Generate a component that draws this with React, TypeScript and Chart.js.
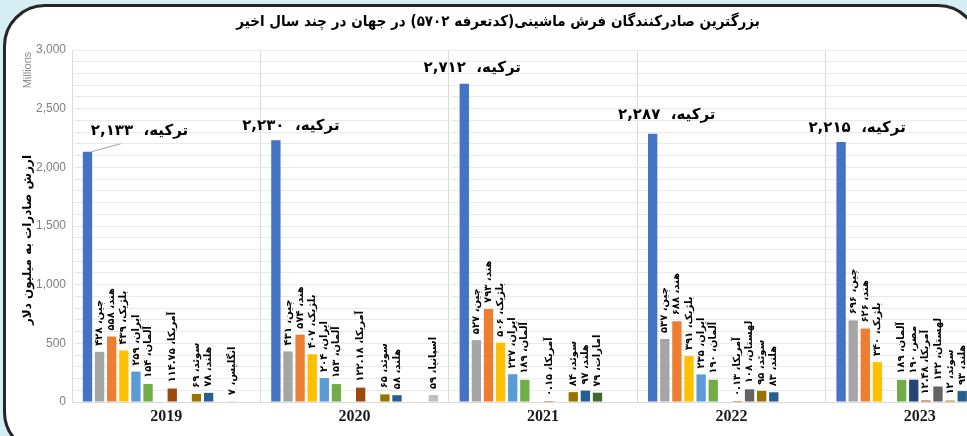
import React, { useEffect, useRef } from 'react';
import { Chart, registerables } from 'chart.js';

Chart.register(...registerables);

const years = ['2019', '2020', '2021', '2022', '2023'];
const countries = ['ترکیه', 'چین', 'هند', 'بلژیک', 'ایران', 'آلمان', 'مصر', 'آمریکا', 'لهستان', 'سوئد', 'هلند', 'امارات', 'انگلیس', 'اسپانیا'];
const colors = ['#4472C4', '#A5A5A5', '#ED7D31', '#FFC000', '#5B9BD5', '#70AD47', '#264478', '#9E480E', '#636363', '#997300', '#255E91', '#43682B', '#F4B183', '#BFBFBF'];

const turkey = [2133, 2230, 2712, 2287, 2215];
const china = [428, 431, 527, 537, 696];
const india = [558, 574, 793, 688, 626];
const belgium = [439, 407, 506, 391, 340];
const iran = [259, 204, 237, 235, null];
const germany = [154, 153, 189, 190, 189];
const egypt = [null, null, null, null, 190];
const usa = [114.75, 122.18, 0.15, 0.13, 12.48];
const poland = [null, null, null, 108, 132];
const sweden = [69, 65, 84, 95, 12];
const netherlands = [78, 58, 97, 83, 93];
const uae = [null, null, 79, null, null];
const england = [7, null, null, null, null];
const spain = [null, 59, null, null, null];

const seriesValues = [turkey, china, india, belgium, iran, germany, egypt, usa, poland, sweden, netherlands, uae, england, spain];

const yMin = 0;
const yMax = 3000;
const yGridStep = 100;
const yLabelStep = 500;

const titleText = 'بزرگترین صادرکنندگان فرش ماشینی(کدتعرفه ۵۷۰۲) در جهان در چند سال اخیر';
const yTitle = 'ارزش صادرات به میلیون دلار';
const unitsLabel = 'Millions';

// label placement offsets (relative to Turkey bar tops), layout only
const turkeyLabelOffsets = [[52, -21], [15, -14], [8, -16], [14, -19], [16, -14]];
const turkeyLeader = [true, false, false, false, false];

const faDigits = '۰۱۲۳۴۵۶۷۸۹';
function toFa(v: number): string {
  const s = v.toLocaleString('en-US', { maximumFractionDigits: 2 });
  return s.replace(/[0-9]/g, (d) => faDigits[Number(d)]);
}

const labelPlugin = {
  id: 'barLabels',
  afterDatasetsDraw(chart: any) {
    const ctx = chart.ctx;
    chart.data.datasets.forEach((ds: any, i: number) => {
      const meta = chart.getDatasetMeta(i);
      meta.data.forEach((bar: any, j: number) => {
        const v = ds.data[j];
        if (v === null || v === undefined) return;
        ctx.save();
        ctx.fillStyle = '#000';
        ctx.direction = 'rtl';
        if (i === 0) {
          const text = `${countries[i]}،  ${toFa(v)}`;
          const [dx, dy] = turkeyLabelOffsets[j];
          ctx.font = 'bold 15px "DejaVu Sans"';
          ctx.textAlign = 'center';
          ctx.textBaseline = 'middle';
          const lx = bar.x + dx;
          const ly = bar.y + dy;
          if (turkeyLeader[j]) {
            const w = ctx.measureText(text).width;
            ctx.strokeStyle = '#A6A6A6';
            ctx.lineWidth = 1;
            ctx.beginPath();
            ctx.moveTo(bar.x + 4, bar.y);
            ctx.lineTo(lx - w / 2 + 30, ly + 13);
            ctx.stroke();
          }
          ctx.fillText(text, lx, ly);
        } else {
          const text = `${countries[i]}، ${toFa(v)}`;
          ctx.translate(bar.x, bar.y - 6);
          ctx.rotate(-Math.PI / 2);
          ctx.font = 'bold 10px "DejaVu Sans"';
          ctx.textAlign = 'left';
          ctx.textBaseline = 'middle';
          ctx.fillText(text, 0, 0);
        }
        ctx.restore();
      });
    });
  },
  afterDraw(chart: any) {
    const ctx = chart.ctx;
    const area = chart.chartArea;
    ctx.save();
    ctx.translate(28, area.top + 20);
    ctx.rotate(-Math.PI / 2);
    ctx.font = '11px "Liberation Sans"';
    ctx.fillStyle = '#8C8C8C';
    ctx.textAlign = 'center';
    ctx.textBaseline = 'middle';
    ctx.fillText(unitsLabel, 0, 0);
    ctx.restore();

    ctx.save();
    ctx.translate(28, (area.top + area.bottom) / 2 + 14);
    ctx.rotate(-Math.PI / 2);
    ctx.font = 'bold 12px "DejaVu Sans"';
    ctx.fillStyle = '#000';
    ctx.direction = 'rtl';
    ctx.textAlign = 'center';
    ctx.textBaseline = 'middle';
    ctx.fillText(yTitle, 0, 0);
    ctx.restore();
  },
};

export default function App() {
  const canvasRef = useRef<HTMLCanvasElement | null>(null);

  useEffect(() => {
    document.body.style.margin = '0';
    const canvas = canvasRef.current;
    if (!canvas) return;
    const chart = new Chart(canvas, {
      type: 'bar',
      data: {
        labels: years,
        datasets: seriesValues.map((vals, i) => ({
          label: countries[i],
          data: vals,
          backgroundColor: colors[i],
          borderWidth: 0,
        })),
      },
      options: {
        responsive: false,
        animation: false,
        devicePixelRatio: 1,
        layout: { padding: { top: 50, left: 0, right: 0, bottom: 0 } },
        datasets: { bar: { categoryPercentage: 0.9, barPercentage: 0.77 } },
        plugins: {
          legend: { display: false },
          tooltip: { enabled: false },
          title: { display: false },
        },
        scales: {
          x: {
            grid: { offset: true, color: '#D9D9D9', drawTicks: false },
            border: { color: '#D9D9D9' },
            ticks: {
              color: '#1a1a1a',
              font: { family: '"Liberation Serif"', size: 16, weight: 'bold' },
              padding: 5,
            },
            afterFit: (s: any) => { s.height = 34; },
          },
          y: {
            min: yMin,
            max: yMax,
            afterFit: (s: any) => { s.width = 72; },
            ticks: {
              stepSize: yGridStep,
              autoSkip: false,
              color: '#7F7F7F',
              font: { family: '"Liberation Sans"', size: 12 },
              padding: 6,
              callback: (v: any) => (Number(v) % yLabelStep === 0 ? Number(v).toLocaleString('en-US') : ''),
            },
            grid: { color: '#EAEAEA', drawTicks: false },
            border: { display: false },
          },
        },
      },
      plugins: [labelPlugin],
    } as any);
    return () => chart.destroy();
  }, []);

  return (
    <div style={{ position: 'fixed', left: 0, top: 0, width: 967, height: 436, background: '#D5EEF4', overflow: 'hidden' }}>
      <div
        style={{
          position: 'absolute', left: 3, top: 4, width: 977, height: 450, boxSizing: 'border-box',
          border: '3px solid #262626', borderRadius: 42, background: '#fff', overflow: 'hidden',
        }}
      >
        <canvas ref={canvasRef} width={1014} height={436} style={{ position: 'absolute', left: -6, top: -7, width: 1014, height: 436 }} />
      </div>
      <div
        dir="rtl"
        style={{
          position: 'absolute', left: 498, top: 12, transform: 'translateX(-50%) scaleX(0.9)', whiteSpace: 'nowrap',
          font: 'bold 15px "DejaVu Sans"', color: '#000',
        }}
      >
        {titleText}
      </div>
    </div>
  );
}
